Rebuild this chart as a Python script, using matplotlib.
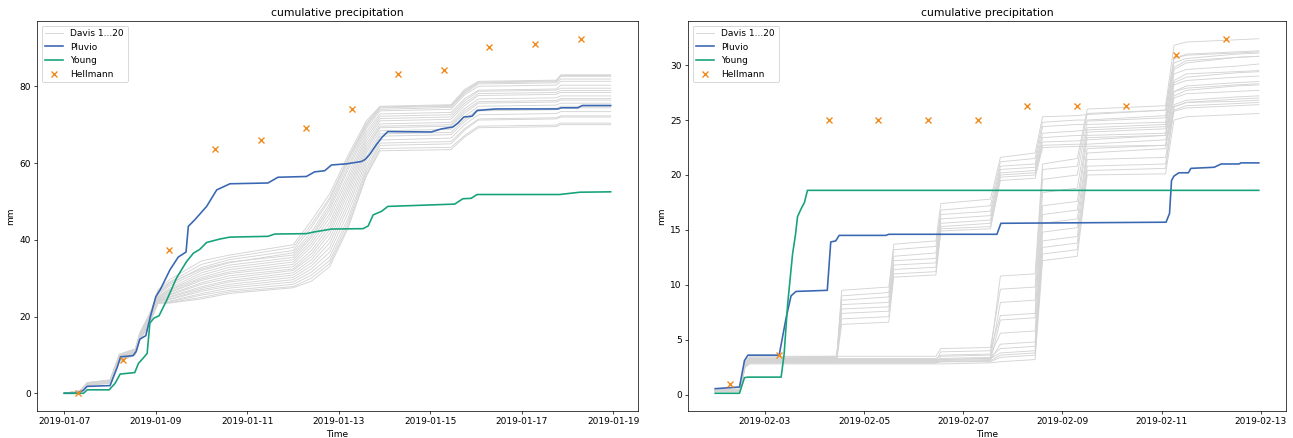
"""Cumulative precipitation, Davis / Pluvio / Young / Hellmann, two periods."""
import numpy as np
import pandas as pd
import matplotlib
matplotlib.use("Agg")
import matplotlib.pyplot as plt
import matplotlib.dates as mdates

### data, January period (days since 2019-01-07 00:00, mm)
jan_start = "2019-01-07"
jan_knots = [0, 0.35, 0.5, 1.0, 1.2, 1.55, 1.65, 1.85, 2.05, 2.3, 3.0, 3.6,
             5.0, 5.4, 5.8, 6.2, 6.6, 6.9, 8.45, 8.75, 9.05, 10.75, 10.85, 11.94]
jan_davis = [
    [0, 0.6, 2.6, 3.2, 9.8, 11.2, 15.2, 19.8, 27.0, 29.6, 34.5, 36.0, 38.7, 45.0, 52.0, 62.0, 71.0, 74.8, 75.2, 79.2, 81.3, 81.6, 83.0, 83.0],
    [0, 0.5, 2.4, 3.0, 9.5, 11.0, 15.0, 19.5, 26.6, 29.0, 33.6, 35.4, 38.0, 44.0, 51.0, 61.2, 70.4, 74.6, 75.0, 78.8, 81.1, 81.4, 82.8, 82.8],
    [0, 0.7, 2.8, 3.4, 10.0, 11.5, 15.6, 20.2, 26.0, 28.4, 32.8, 34.8, 37.2, 43.2, 50.4, 60.8, 70.0, 74.4, 74.8, 78.6, 80.9, 81.2, 82.6, 82.6],
    [0, 0.5, 2.5, 3.1, 9.2, 10.9, 14.8, 19.2, 25.6, 28.0, 32.0, 34.0, 36.6, 42.0, 49.4, 60.0, 69.6, 74.0, 74.5, 78.2, 80.6, 80.9, 81.9, 81.9],
    [0, 0.4, 2.2, 2.9, 9.0, 10.6, 14.6, 19.0, 26.2, 28.8, 32.4, 34.2, 36.0, 41.2, 48.6, 59.0, 69.0, 73.6, 74.0, 77.8, 80.0, 80.3, 81.3, 81.3],
    [0, 0.6, 2.6, 3.3, 9.6, 11.0, 15.0, 19.4, 25.2, 27.4, 31.4, 33.4, 35.4, 40.6, 47.8, 58.2, 68.2, 72.8, 73.2, 76.8, 79.0, 79.3, 80.3, 80.3],
    [0, 0.5, 2.3, 2.9, 8.8, 10.4, 14.4, 18.6, 25.0, 27.0, 30.8, 32.8, 34.8, 39.8, 46.8, 57.0, 67.4, 72.2, 72.6, 76.2, 78.7, 79.0, 79.5, 79.5],
    [0, 0.7, 2.7, 3.4, 9.9, 11.3, 15.4, 19.8, 24.8, 26.8, 30.2, 32.2, 34.2, 39.0, 45.8, 56.0, 66.6, 71.6, 72.0, 75.6, 78.1, 78.4, 78.9, 78.9],
    [0, 0.4, 2.1, 2.8, 8.6, 10.2, 14.2, 18.4, 24.6, 26.4, 29.8, 31.6, 33.6, 38.2, 44.6, 55.0, 65.8, 71.0, 71.4, 75.0, 77.6, 77.9, 78.4, 78.4],
    [0, 0.6, 2.5, 3.1, 9.3, 10.8, 14.8, 19.0, 24.4, 26.2, 29.4, 31.2, 33.0, 37.2, 43.6, 54.0, 65.0, 70.2, 70.6, 74.2, 76.7, 77.0, 77.5, 77.5],
    [0, 0.5, 2.4, 3.0, 9.1, 10.6, 14.6, 18.8, 24.2, 25.8, 28.8, 30.6, 32.4, 36.4, 42.6, 53.0, 64.2, 69.6, 70.0, 73.6, 76.0, 76.3, 76.8, 76.8],
    [0, 0.3, 2.0, 2.7, 8.4, 10.1, 14.0, 18.0, 24.0, 25.6, 28.4, 30.0, 32.0, 35.6, 41.6, 52.0, 63.4, 69.2, 69.6, 73.0, 75.6, 75.9, 76.4, 76.4],
    [0, 0.6, 2.6, 3.2, 9.4, 10.9, 14.9, 19.2, 23.8, 25.2, 27.8, 29.4, 31.4, 34.8, 40.4, 50.8, 62.6, 68.4, 68.8, 72.2, 74.8, 75.1, 75.6, 75.6],
    [0, 0.5, 2.3, 3.0, 8.9, 10.5, 14.4, 18.6, 24.3, 25.0, 27.4, 29.0, 30.8, 34.0, 39.2, 49.6, 61.6, 67.6, 68.0, 71.4, 74.0, 74.3, 74.8, 74.8],
    [0, 0.4, 2.2, 2.8, 8.5, 10.2, 14.1, 18.2, 24.0, 24.6, 27.0, 28.4, 30.2, 33.2, 38.0, 48.4, 60.6, 67.0, 67.4, 70.8, 73.6, 73.9, 74.4, 74.4],
    [0, 0.7, 2.8, 3.5, 10.2, 11.6, 15.8, 20.5, 23.9, 24.4, 26.6, 27.9, 29.6, 32.4, 36.8, 47.0, 59.6, 66.0, 66.5, 70.0, 72.6, 72.9, 73.4, 73.4],
    [0, 0.5, 2.4, 3.1, 9.0, 10.7, 14.6, 18.9, 23.7, 24.0, 26.0, 27.4, 29.0, 31.6, 35.6, 45.6, 58.6, 65.2, 65.6, 69.0, 71.5, 71.8, 72.3, 72.3],
    [0, 0.3, 2.0, 2.6, 8.2, 10.0, 13.8, 17.6, 23.6, 23.8, 25.6, 26.8, 28.4, 30.8, 34.6, 44.6, 57.8, 64.6, 65.0, 68.6, 71.2, 71.5, 72.0, 72.0],
    [0, 0.6, 2.5, 3.2, 9.4, 10.8, 14.8, 19.0, 23.5, 23.6, 25.0, 26.4, 27.8, 30.0, 33.8, 43.6, 57.0, 63.8, 64.1, 67.2, 69.6, 69.9, 70.4, 70.4],
    [0, 0.4, 2.2, 2.9, 8.7, 10.3, 14.2, 18.4, 23.5, 23.5, 24.6, 26.0, 27.5, 29.2, 33.0, 43.0, 56.6, 63.2, 63.5, 66.8, 69.2, 69.5, 70.0, 70.0],
]
jan_pluvio_t = [0, 0.27, 0.41, 0.5, 1.0, 1.16, 1.23, 1.5, 1.57, 1.65, 1.78, 1.89, 2.0, 2.1,
                2.31, 2.49, 2.66, 2.71, 2.85, 3.11, 3.33, 3.62, 4.45, 4.67, 5.29, 5.47,
                5.69, 5.84, 6.17, 6.49, 6.57, 6.67, 6.82, 6.95, 7.07, 8.02, 8.24, 8.49,
                8.6, 8.73, 8.91, 9.02, 9.44, 10.79, 10.86, 11.22, 11.32, 11.94]
jan_pluvio = [0, 0, 0.7, 1.8, 2.0, 6.9, 9.5, 9.8, 10.9, 14.1, 15.0, 20.4, 25.2, 27.1,
              32.2, 35.5, 36.8, 43.5, 45.2, 48.7, 53.0, 54.6, 54.8, 56.3, 56.5, 57.7,
              58.0, 59.5, 59.8, 60.4, 60.9, 62.2, 64.8, 66.8, 68.2, 68.1, 68.9, 69.4,
              70.4, 72.0, 72.2, 73.7, 74.1, 74.1, 74.4, 74.4, 75.0, 75.0]
jan_young_t = [0, 0.42, 0.5, 0.98, 1.11, 1.22, 1.54, 1.62, 1.72, 1.81, 1.87, 1.96, 2.07,
               2.24, 2.45, 2.67, 2.82, 2.96, 3.11, 3.4, 3.62, 4.45, 4.6, 5.29, 5.44,
               5.84, 6.53, 6.64, 6.75, 6.93, 7.07, 8.53, 8.71, 8.89, 9.02, 10.82, 11.27, 11.94]
jan_young = [0, 0, 0.9, 0.9, 2.6, 5.0, 5.4, 7.8, 9.1, 10.4, 18.3, 19.6, 20.2,
             24.3, 30.0, 34.3, 36.5, 37.5, 39.3, 40.2, 40.7, 40.9, 41.5, 41.6, 42.0,
             42.8, 42.9, 43.6, 46.5, 47.4, 48.7, 49.3, 50.7, 50.8, 51.8, 51.8, 52.4, 52.5]
jan_hellmann_t = [0.29, 1.29, 2.29, 3.29, 4.29, 5.29, 6.29, 7.29, 8.29, 9.29, 10.29, 11.29]
jan_hellmann = [0, 8.7, 37.4, 63.7, 65.9, 69.1, 74.1, 83.3, 84.3, 90.3, 90.9, 92.4]

### data, February period (days since 2019-02-02 00:00, mm)
feb_start = "2019-02-02"
feb_knots = [0, 0.5, 0.6, 0.7, 2.45, 2.55, 3.5, 3.6, 4.45, 4.55, 5.55, 5.75,
             6.45, 6.6, 7.3, 7.5, 9.08, 9.25, 9.5, 10.5, 10.96]
feb_davis = [
    [0.5, 0.5, 2.9, 3.4, 3.5, 9.5, 9.8, 13.7, 14.0, 17.4, 17.8, 21.6, 22.0, 25.3, 25.4, 25.5, 25.9, 30.6, 31.0, 31.2, 31.3],
    [0.4, 0.4, 2.8, 3.3, 3.4, 9.0, 9.3, 13.2, 13.5, 16.8, 17.2, 21.2, 21.5, 24.8, 25.0, 25.0, 25.4, 29.8, 30.4, 30.7, 30.8],
    [0.4, 0.4, 2.7, 3.2, 3.3, 8.6, 8.9, 12.6, 12.9, 16.4, 16.7, 20.8, 21.0, 24.4, 24.6, 24.6, 24.8, 28.6, 29.2, 29.4, 29.5],
    [0.3, 0.3, 2.6, 3.1, 3.2, 8.2, 8.4, 12.2, 12.4, 16.0, 16.3, 20.5, 20.7, 23.8, 24.0, 24.1, 24.4, 28.4, 28.9, 29.3, 29.4],
    [0.4, 0.4, 2.9, 3.3, 3.4, 7.8, 8.0, 11.8, 12.0, 15.6, 15.9, 20.2, 20.4, 23.4, 23.6, 23.6, 23.8, 27.6, 28.1, 28.4, 28.5],
    [0.3, 0.3, 2.7, 3.1, 3.2, 7.4, 7.6, 11.4, 11.6, 15.3, 15.6, 20.0, 20.2, 23.0, 23.1, 23.2, 23.6, 27.2, 27.7, 28.1, 28.2],
    [0.4, 0.4, 2.8, 3.2, 3.3, 6.9, 7.1, 11.0, 11.2, 15.1, 15.3, 19.8, 20.0, 22.7, 22.8, 22.8, 23.2, 26.2, 26.6, 26.9, 27.0],
    [0.3, 0.3, 2.6, 3.0, 3.1, 6.4, 6.6, 10.7, 10.9, 14.9, 15.1, 19.5, 19.7, 22.5, 22.6, 22.6, 22.7, 25.9, 26.3, 26.5, 26.6],
    [0.4, 0.4, 2.8, 3.3, 3.3, 3.3, 3.3, 3.3, 3.3, 3.6, 3.7, 10.8, 11.0, 21.0, 21.5, 26.0, 26.3, 31.8, 32.1, 32.3, 32.4],
    [0.5, 0.5, 3.0, 3.5, 3.5, 3.5, 3.5, 3.5, 3.5, 4.2, 4.3, 9.6, 9.8, 20.5, 20.8, 25.6, 25.9, 30.6, 30.9, 31.1, 31.2],
    [0.4, 0.4, 2.8, 3.2, 3.2, 3.2, 3.2, 3.2, 3.2, 3.2, 3.3, 8.4, 8.6, 19.6, 20.0, 24.9, 25.2, 30.2, 30.6, 31.0, 31.1],
    [0.3, 0.3, 2.7, 3.1, 3.1, 3.1, 3.1, 3.1, 3.1, 3.9, 4.0, 7.2, 7.4, 18.4, 18.8, 24.3, 24.6, 29.6, 30.2, 30.7, 30.8],
    [0.4, 0.4, 2.6, 3.0, 3.0, 3.0, 3.0, 3.0, 3.0, 3.0, 3.1, 6.8, 7.0, 17.2, 17.6, 23.9, 24.2, 29.2, 29.6, 29.9, 30.1],
    [0.3, 0.3, 2.5, 2.9, 2.9, 2.9, 2.9, 2.9, 2.9, 3.5, 3.6, 5.6, 5.8, 16.4, 16.8, 23.4, 23.6, 28.2, 28.6, 28.9, 29.0],
    [0.4, 0.4, 2.7, 3.1, 3.1, 3.1, 3.1, 3.1, 3.1, 3.1, 3.2, 4.6, 4.8, 15.6, 16.0, 22.4, 22.7, 27.6, 27.9, 28.2, 28.3],
    [0.3, 0.3, 2.6, 3.0, 3.0, 3.0, 3.0, 3.0, 3.0, 3.3, 3.4, 4.2, 4.4, 14.8, 15.2, 22.0, 22.4, 27.0, 27.4, 27.6, 27.7],
    [0.4, 0.4, 2.8, 3.2, 3.2, 3.2, 3.2, 3.2, 3.2, 3.2, 3.3, 3.8, 4.0, 14.0, 14.4, 21.4, 21.6, 26.4, 26.8, 27.1, 27.2],
    [0.3, 0.3, 2.5, 2.9, 2.9, 2.9, 2.9, 2.9, 2.9, 3.0, 3.1, 3.6, 3.8, 13.4, 13.8, 20.8, 21.0, 25.8, 26.1, 26.3, 26.4],
    [0.4, 0.4, 2.6, 2.9, 2.9, 2.9, 2.9, 2.9, 2.9, 3.0, 3.0, 3.4, 3.6, 12.8, 13.2, 20.4, 20.6, 26.2, 26.6, 26.7, 26.8],
    [0.3, 0.3, 2.5, 2.8, 2.8, 2.8, 2.8, 2.8, 2.8, 2.8, 2.9, 3.0, 3.2, 12.2, 12.6, 20.0, 20.1, 25.0, 25.3, 25.5, 25.6],
]
feb_pluvio_t = [0, 0.49, 0.59, 0.66, 1.29, 1.43, 1.53, 1.63, 2.26, 2.33, 2.43, 2.5, 3.44,
                3.5, 5.68, 5.76, 9.09, 9.16, 9.2, 9.25, 9.35, 9.54, 9.59, 10.06, 10.2,
                10.56, 10.6, 10.96]
feb_pluvio = [0.55, 0.7, 3.1, 3.6, 3.6, 7.0, 9.0, 9.4, 9.5, 13.9, 14.0, 14.5, 14.5,
              14.6, 14.6, 15.6, 15.7, 16.5, 19.5, 19.9, 20.2, 20.2, 20.6, 20.7, 21.0,
              21.0, 21.1, 21.1]
feb_young_t = [0, 0.49, 0.59, 0.66, 1.33, 1.39, 1.46, 1.56, 1.62, 1.66, 1.73, 1.8, 1.86, 10.96]
feb_young = [0.13, 0.13, 1.55, 1.6, 1.6, 3.7, 8.2, 12.8, 14.6, 16.2, 16.9, 17.5, 18.6, 18.6]
feb_hellmann_t = [0.29, 1.29, 2.29, 3.29, 4.29, 5.29, 6.29, 7.29, 8.29, 9.29, 10.29]
feb_hellmann = [1.0, 3.6, 25.0, 25.0, 25.0, 25.0, 26.3, 26.3, 26.3, 30.9, 32.4]

### styles
davis_color = "#d4d4d4"
pluvio_color = "#3a67b2"
young_color = "#16a27a"
hellmann_color = "#ee8a1c"


def to_time(start, days):
    return pd.Timestamp(start) + pd.to_timedelta(np.asarray(days, dtype=float), unit="D")


def plot_period(ax, start, knots, davis, pluvio_t, pluvio, young_t, young, hell_t, hell):
    tk = to_time(start, knots)
    for i, row in enumerate(davis):
        ax.plot(tk, row, color=davis_color, lw=1.0,
                label="Davis 1...20" if i == 0 else None)
    ax.plot(to_time(start, pluvio_t), pluvio, color=pluvio_color, lw=1.8, label="Pluvio")
    ax.plot(to_time(start, young_t), young, color=young_color, lw=1.8, label="Young")
    ax.plot(to_time(start, hell_t), hell, ls="none", marker="x", ms=6, mew=1.5,
            color=hellmann_color, label="Hellmann")

    ax.xaxis.set_major_locator(mdates.DayLocator(bymonthday=range(1, 32, 2)))
    ax.xaxis.set_major_formatter(mdates.DateFormatter("%Y-%m-%d"))
    ax.set_title("cumulative precipitation")
    ax.set_xlabel("Time")
    ax.set_ylabel("mm")
    ax.legend(loc="upper left")


fig = plt.figure(figsize=(1293 / 65, 438 / 65), dpi=65)
ax1 = fig.add_axes([37 / 1293, 27 / 438, 601 / 1293, 390 / 438])
ax2 = fig.add_axes([688 / 1293, 27 / 438, 598 / 1293, 390 / 438])

plot_period(ax1, jan_start, jan_knots, jan_davis, jan_pluvio_t, jan_pluvio,
            jan_young_t, jan_young, jan_hellmann_t, jan_hellmann)
plot_period(ax2, feb_start, feb_knots, feb_davis, feb_pluvio_t, feb_pluvio,
            feb_young_t, feb_young, feb_hellmann_t, feb_hellmann)

fig.savefig("out.png", dpi=65)
